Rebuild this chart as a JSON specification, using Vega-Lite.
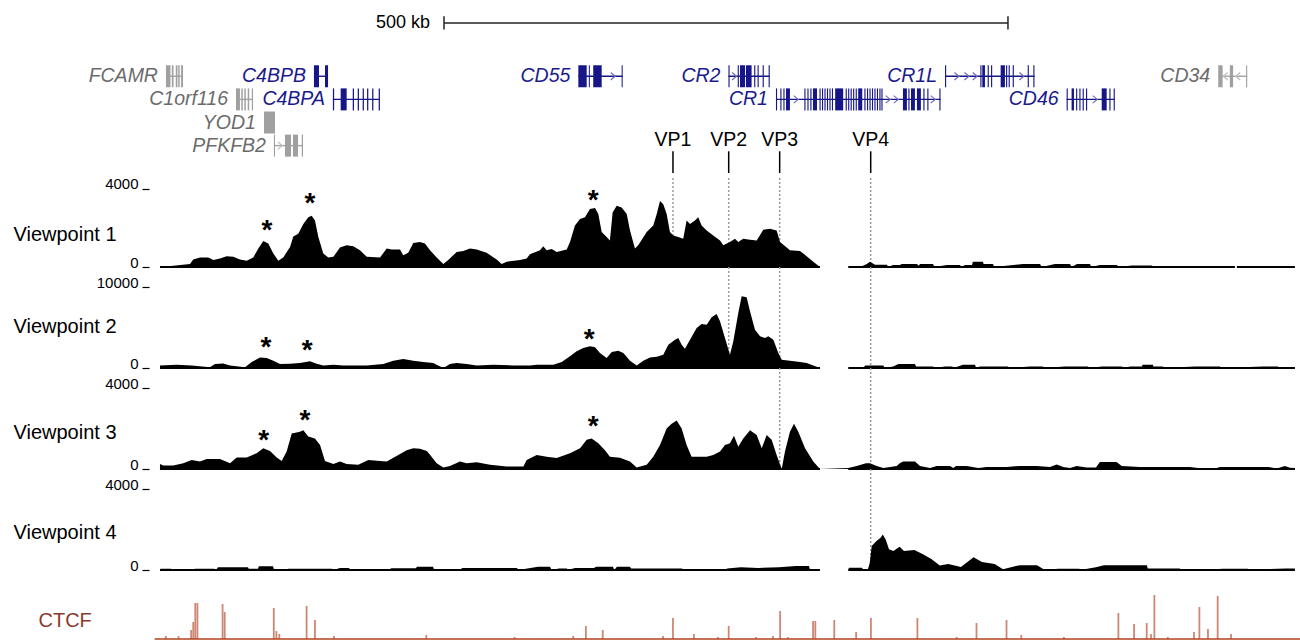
{
"$schema": "https://vega.github.io/schema/vega-lite/v6.json",
"padding": {"left": 13, "top": 0, "right": 0, "bottom": 2},
"spacing": 0,
"bounds": "flush",
"background": "white",
"config": {
  "view": {"stroke": null},
  "font": "Liberation Sans",
  "axisY": {"domain": false, "grid": false, "ticks": true, "tickSize": 7, "tickWidth": 1.2, "tickColor": "#000", "offset": 5,
    "labelFont": "Liberation Sans", "labelFontSize": 15, "labelColor": "#000", "labelBaseline": "alphabetic", "labelAlign": "right",
    "labelPadding": 4, "labelFlush": false, "labelOverlap": false, "format": "d",
    "titleAngle": 0, "titleAlign": "left", "titleBaseline": "middle", "titleX": -136, "titleFont": "Liberation Sans",
    "titleFontSize": 20, "titleFontWeight": "normal", "titleColor": "#000", "titlePadding": 0}
},
"datasets": {
  "scalebar": [{"s": 257.1, "e": 757.1, "label": "500 kb"}],
  "genes": [
    {"gene": "FCAMR", "grp": "gray", "L": 1, "s": 10.6, "e": 25.7},
    {"gene": "C4BPB", "grp": "blue", "L": 1, "s": 141.8, "e": 154.3},
    {"gene": "C1orf116", "grp": "gray", "L": 2, "s": 72.7, "e": 87.8},
    {"gene": "C4BPA", "grp": "blue", "L": 2, "s": 158.6, "e": 200.3},
    {"gene": "YOD1", "grp": "gray", "L": 3, "s": 97.5, "e": 107.3},
    {"gene": "PFKFB2", "grp": "gray", "L": 4, "s": 106.3, "e": 132.1},
    {"gene": "CD55", "grp": "blue", "L": 1, "s": 376.2, "e": 415.5},
    {"gene": "CR2", "grp": "blue", "L": 1, "s": 509.3, "e": 545.9},
    {"gene": "CR1", "grp": "blue", "L": 2, "s": 551.4, "e": 697.3},
    {"gene": "CR1L", "grp": "blue", "L": 1, "s": 701.3, "e": 780.6},
    {"gene": "CD46", "grp": "blue", "L": 2, "s": 809.1, "e": 851.8},
    {"gene": "CD34", "grp": "gray", "L": 1, "s": 943.5, "e": 969.2}
  ],
  "exons": [
    {"grp": "gray", "L": 1, "s": 10.6, "e": 14.6}, {"grp": "gray", "L": 1, "s": 15.8, "e": 17.3}, {"grp": "gray", "L": 1, "s": 19.3, "e": 20.8}, {"grp": "gray", "L": 1, "s": 21.5, "e": 22.8}, {"grp": "gray", "L": 1, "s": 24.0, "e": 25.7},
    {"grp": "blue", "L": 1, "s": 141.8, "e": 146.3}, {"grp": "blue", "L": 1, "s": 151.6, "e": 154.3},
    {"grp": "gray", "L": 2, "s": 72.7, "e": 76.2}, {"grp": "gray", "L": 2, "s": 77.4, "e": 78.7}, {"grp": "gray", "L": 2, "s": 80.1, "e": 81.4}, {"grp": "gray", "L": 2, "s": 83.1, "e": 84.4}, {"grp": "gray", "L": 2, "s": 86.7, "e": 87.8},
    {"grp": "blue", "L": 2, "s": 158.6, "e": 159.7}, {"grp": "blue", "L": 2, "s": 165.5, "e": 170.8}, {"grp": "blue", "L": 2, "s": 176.2, "e": 177.3}, {"grp": "blue", "L": 2, "s": 180.6, "e": 181.7}, {"grp": "blue", "L": 2, "s": 185.0, "e": 186.1}, {"grp": "blue", "L": 2, "s": 188.9, "e": 190.0}, {"grp": "blue", "L": 2, "s": 193.4, "e": 194.5}, {"grp": "blue", "L": 2, "s": 199.2, "e": 200.3},
    {"grp": "gray", "L": 3, "s": 97.5, "e": 107.3},
    {"grp": "gray", "L": 4, "s": 106.3, "e": 107.3}, {"grp": "gray", "L": 4, "s": 116.1, "e": 121.5}, {"grp": "gray", "L": 4, "s": 123.2, "e": 127.7}, {"grp": "gray", "L": 4, "s": 131.0, "e": 132.1},
    {"grp": "blue", "L": 1, "s": 376.2, "e": 383.6}, {"grp": "blue", "L": 1, "s": 385.5, "e": 386.4}, {"grp": "blue", "L": 1, "s": 389.4, "e": 396.9}, {"grp": "blue", "L": 1, "s": 414.6, "e": 415.5},
    {"grp": "blue", "L": 1, "s": 509.3, "e": 510.3}, {"grp": "blue", "L": 1, "s": 517.5, "e": 518.5}, {"grp": "blue", "L": 1, "s": 519.5, "e": 524.0}, {"grp": "blue", "L": 1, "s": 524.8, "e": 529.8}, {"grp": "blue", "L": 1, "s": 532.1, "e": 533.1}, {"grp": "blue", "L": 1, "s": 535.1, "e": 536.1}, {"grp": "blue", "L": 1, "s": 539.6, "e": 540.6}, {"grp": "blue", "L": 1, "s": 544.9, "e": 545.9},
    {"grp": "blue", "L": 2, "s": 551.4, "e": 552.4}, {"grp": "blue", "L": 2, "s": 555.3, "e": 556.3}, {"grp": "blue", "L": 2, "s": 558.0, "e": 559.0}, {"grp": "blue", "L": 2, "s": 560.3, "e": 563.8}, {"grp": "blue", "L": 2, "s": 576.6, "e": 577.6}, {"grp": "blue", "L": 2, "s": 579.3, "e": 580.3}, {"grp": "blue", "L": 2, "s": 581.9, "e": 582.9}, {"grp": "blue", "L": 2, "s": 584.2, "e": 587.8}, {"grp": "blue", "L": 2, "s": 590.0, "e": 591.0}, {"grp": "blue", "L": 2, "s": 592.2, "e": 593.2}, {"grp": "blue", "L": 2, "s": 594.4, "e": 595.4}, {"grp": "blue", "L": 2, "s": 596.6, "e": 597.6}, {"grp": "blue", "L": 2, "s": 598.8, "e": 599.8}, {"grp": "blue", "L": 2, "s": 601.0, "e": 602.0}, {"grp": "blue", "L": 2, "s": 603.9, "e": 611.0}, {"grp": "blue", "L": 2, "s": 613.2, "e": 614.2}, {"grp": "blue", "L": 2, "s": 615.4, "e": 616.4}, {"grp": "blue", "L": 2, "s": 617.6, "e": 618.6}, {"grp": "blue", "L": 2, "s": 619.8, "e": 620.8}, {"grp": "blue", "L": 2, "s": 622.1, "e": 623.1}, {"grp": "blue", "L": 2, "s": 624.3, "e": 627.9}, {"grp": "blue", "L": 2, "s": 629.8, "e": 630.8}, {"grp": "blue", "L": 2, "s": 632.1, "e": 633.1}, {"grp": "blue", "L": 2, "s": 634.3, "e": 635.3}, {"grp": "blue", "L": 2, "s": 636.5, "e": 637.5}, {"grp": "blue", "L": 2, "s": 638.7, "e": 639.7}, {"grp": "blue", "L": 2, "s": 640.9, "e": 641.9}, {"grp": "blue", "L": 2, "s": 643.1, "e": 644.1}, {"grp": "blue", "L": 2, "s": 644.9, "e": 645.9}, {"grp": "blue", "L": 2, "s": 664.0, "e": 667.5}, {"grp": "blue", "L": 2, "s": 668.8, "e": 669.8}, {"grp": "blue", "L": 2, "s": 671.1, "e": 674.6}, {"grp": "blue", "L": 2, "s": 676.4, "e": 679.9}, {"grp": "blue", "L": 2, "s": 682.1, "e": 683.1}, {"grp": "blue", "L": 2, "s": 685.6, "e": 686.6}, {"grp": "blue", "L": 2, "s": 696.3, "e": 697.3},
    {"grp": "blue", "L": 1, "s": 701.3, "e": 702.3}, {"grp": "blue", "L": 1, "s": 732.6, "e": 733.6}, {"grp": "blue", "L": 1, "s": 734.3, "e": 736.7}, {"grp": "blue", "L": 1, "s": 739.1, "e": 740.1}, {"grp": "blue", "L": 1, "s": 742.1, "e": 743.1}, {"grp": "blue", "L": 1, "s": 750.6, "e": 754.4}, {"grp": "blue", "L": 1, "s": 755.4, "e": 756.4}, {"grp": "blue", "L": 1, "s": 757.7, "e": 758.7}, {"grp": "blue", "L": 1, "s": 761.3, "e": 762.3}, {"grp": "blue", "L": 1, "s": 774.6, "e": 775.6}, {"grp": "blue", "L": 1, "s": 779.6, "e": 780.6},
    {"grp": "blue", "L": 2, "s": 809.1, "e": 810.1}, {"grp": "blue", "L": 2, "s": 813.5, "e": 815.6}, {"grp": "blue", "L": 2, "s": 817.5, "e": 818.5}, {"grp": "blue", "L": 2, "s": 820.4, "e": 821.4}, {"grp": "blue", "L": 2, "s": 823.3, "e": 824.3}, {"grp": "blue", "L": 2, "s": 826.3, "e": 827.3}, {"grp": "blue", "L": 2, "s": 840.2, "e": 844.6}, {"grp": "blue", "L": 2, "s": 847.0, "e": 848.0}, {"grp": "blue", "L": 2, "s": 850.8, "e": 851.8},
    {"grp": "gray", "L": 1, "s": 943.5, "e": 947.4}, {"grp": "gray", "L": 1, "s": 953.8, "e": 956.7}, {"grp": "gray", "L": 1, "s": 968.2, "e": 969.2}
  ],
  "arrows": [
    {"grp": "gray", "L": 4, "kb": 111.7, "dir": "r"},
    {"grp": "blue", "L": 1, "kb": 406.9, "dir": "r"},
    {"grp": "blue", "L": 1, "kb": 514.5, "dir": "r"},
    {"grp": "blue", "L": 2, "kb": 569.1, "dir": "r"}, {"grp": "blue", "L": 2, "kb": 650.7, "dir": "r"}, {"grp": "blue", "L": 2, "kb": 657.8, "dir": "r"}, {"grp": "blue", "L": 2, "kb": 690.6, "dir": "r"},
    {"grp": "blue", "L": 1, "kb": 711.6, "dir": "r"}, {"grp": "blue", "L": 1, "kb": 720.5, "dir": "r"}, {"grp": "blue", "L": 1, "kb": 727.8, "dir": "r"}, {"grp": "blue", "L": 1, "kb": 769.2, "dir": "r"},
    {"grp": "blue", "L": 2, "kb": 834.2, "dir": "r"},
    {"grp": "gray", "L": 1, "kb": 950.0, "dir": "l"}, {"grp": "gray", "L": 1, "kb": 961.0, "dir": "l"}
  ],
  "vps": [
    {"vp": "VP1", "kb": 460.1, "last": 1},
    {"vp": "VP2", "kb": 509.5, "last": 2},
    {"vp": "VP3", "kb": 554.7, "last": 3},
    {"vp": "VP4", "kb": 635.4, "last": 4}
  ],
  "base": [
    {"trk": 1, "s": 5.3, "e": 590.4}, {"trk": 1, "s": 615.5, "e": 958.3}, {"trk": 1, "s": 960, "e": 1011.5},
    {"trk": 2, "s": 5.3, "e": 590.4}, {"trk": 2, "s": 615.5, "e": 1011.5},
    {"trk": 3, "s": 5.3, "e": 590.4}, {"trk": 3, "s": 615.5, "e": 1011.5},
    {"trk": 4, "s": 5.3, "e": 590.4}, {"trk": 4, "s": 615.5, "e": 1011.5}
  ],
  "stars": [
    {"trk": 1, "kb": 100.1, "v": 2273}, {"trk": 1, "kb": 138.3, "v": 3642}, {"trk": 1, "kb": 389.4, "v": 3812},
    {"trk": 2, "kb": 99.3, "v": 3458}, {"trk": 2, "kb": 135.9, "v": 3050}, {"trk": 2, "kb": 385.9, "v": 4483},
    {"trk": 3, "kb": 97.3, "v": 1764}, {"trk": 3, "kb": 133.9, "v": 2752}, {"trk": 3, "kb": 389.4, "v": 2470}
  ],
  "vp1": [
    {"seg":"a","kb":5.3,"v":0},{"seg":"a","kb":17.1,"v":66},{"seg":"a","kb":31.9,"v":150},{"seg":"a","kb":34.8,"v":390},{"seg":"a","kb":40.8,"v":490},{"seg":"a","kb":48.1,"v":490},{"seg":"a","kb":52.6,"v":354},{"seg":"a","kb":58.5,"v":440},{"seg":"a","kb":64.4,"v":557},{"seg":"a","kb":70.3,"v":520},{"seg":"a","kb":76.2,"v":390},{"seg":"a","kb":82.2,"v":320},{"seg":"a","kb":88.0,"v":490},{"seg":"a","kb":92.5,"v":946},{"seg":"a","kb":96.9,"v":1330},{"seg":"a","kb":101.3,"v":1200},{"seg":"a","kb":105.8,"v":693},{"seg":"a","kb":110.2,"v":320},{"seg":"a","kb":114.6,"v":490},{"seg":"a","kb":120.6,"v":1030},{"seg":"a","kb":123.5,"v":1570},{"seg":"a","kb":127.9,"v":1700},{"seg":"a","kb":132.4,"v":2210},{"seg":"a","kb":136.8,"v":2545},{"seg":"a","kb":139.8,"v":2630},{"seg":"a","kb":142.7,"v":2380},{"seg":"a","kb":145.7,"v":1535},{"seg":"a","kb":150.1,"v":690},{"seg":"a","kb":154.5,"v":490},{"seg":"a","kb":159.0,"v":520},{"seg":"a","kb":164.9,"v":995},{"seg":"a","kb":170.8,"v":1110},{"seg":"a","kb":176.7,"v":1060},{"seg":"a","kb":182.6,"v":860},{"seg":"a","kb":188.6,"v":520},{"seg":"a","kb":200.4,"v":490},{"seg":"a","kb":206.3,"v":946},{"seg":"a","kb":210.7,"v":895},{"seg":"a","kb":218.1,"v":895},{"seg":"a","kb":221.0,"v":607},{"seg":"a","kb":225.4,"v":725},{"seg":"a","kb":229.9,"v":1230},{"seg":"a","kb":235.8,"v":1280},{"seg":"a","kb":240.2,"v":1200},{"seg":"a","kb":244.7,"v":860},{"seg":"a","kb":250.6,"v":490},{"seg":"a","kb":256.5,"v":150},{"seg":"a","kb":260.9,"v":354},{"seg":"a","kb":268.3,"v":775},{"seg":"a","kb":274.2,"v":826},{"seg":"a","kb":280.1,"v":946},{"seg":"a","kb":286.1,"v":895},{"seg":"a","kb":294.9,"v":725},{"seg":"a","kb":303.8,"v":390},{"seg":"a","kb":308.2,"v":150},{"seg":"a","kb":312.7,"v":270},{"seg":"a","kb":324.5,"v":354},{"seg":"a","kb":330.4,"v":440},{"seg":"a","kb":333.3,"v":658},{"seg":"a","kb":342.2,"v":860},{"seg":"a","kb":345.1,"v":1060},{"seg":"a","kb":348.1,"v":860},{"seg":"a","kb":352.6,"v":928},{"seg":"a","kb":357.0,"v":775},{"seg":"a","kb":365.9,"v":895},{"seg":"a","kb":368.8,"v":1280},{"seg":"a","kb":373.2,"v":2125},{"seg":"a","kb":377.7,"v":2460},{"seg":"a","kb":382.1,"v":2545},{"seg":"a","kb":386.5,"v":2970},{"seg":"a","kb":391.0,"v":3020},{"seg":"a","kb":393.9,"v":2715},{"seg":"a","kb":396.9,"v":1790},{"seg":"a","kb":401.3,"v":1535},{"seg":"a","kb":404.2,"v":1365},{"seg":"a","kb":406.6,"v":2800},{"seg":"a","kb":410.2,"v":3140},{"seg":"a","kb":414.6,"v":3050},{"seg":"a","kb":419.1,"v":2715},{"seg":"a","kb":422.0,"v":1870},{"seg":"a","kb":426.4,"v":946},{"seg":"a","kb":429.3,"v":1110},{"seg":"a","kb":436.8,"v":1790},{"seg":"a","kb":442.6,"v":2125},{"seg":"a","kb":445.7,"v":2715},{"seg":"a","kb":448.6,"v":3390},{"seg":"a","kb":451.5,"v":3220},{"seg":"a","kb":454.5,"v":2715},{"seg":"a","kb":457.4,"v":1790},{"seg":"a","kb":460.4,"v":1620},{"seg":"a","kb":464.8,"v":1535},{"seg":"a","kb":469.2,"v":1450},{"seg":"a","kb":472.2,"v":2380},{"seg":"a","kb":475.2,"v":2210},{"seg":"a","kb":479.6,"v":2380},{"seg":"a","kb":482.5,"v":2545},{"seg":"a","kb":485.5,"v":2125},{"seg":"a","kb":490.0,"v":1870},{"seg":"a","kb":495.8,"v":1620},{"seg":"a","kb":501.8,"v":1365},{"seg":"a","kb":504.7,"v":1110},{"seg":"a","kb":510.6,"v":1280},{"seg":"a","kb":515.1,"v":1450},{"seg":"a","kb":518.0,"v":1280},{"seg":"a","kb":522.4,"v":1450},{"seg":"a","kb":528.4,"v":1400},{"seg":"a","kb":534.3,"v":1365},{"seg":"a","kb":540.2,"v":1910},{"seg":"a","kb":546.1,"v":1960},{"seg":"a","kb":552.0,"v":1870},{"seg":"a","kb":555.0,"v":1280},{"seg":"a","kb":560.9,"v":995},{"seg":"a","kb":563.8,"v":860},{"seg":"a","kb":572.7,"v":826},{"seg":"a","kb":578.6,"v":557},{"seg":"a","kb":584.5,"v":270},{"seg":"a","kb":590.4,"v":0},
    {"seg":"b","kb":615.5,"v":0},{"seg":"b","kb":625.9,"v":0},{"seg":"b","kb":628.5,"v":60},{"seg":"b","kb":631.9,"v":150},{"seg":"b","kb":634.8,"v":270},{"seg":"b","kb":637.0,"v":190},{"seg":"b","kb":639.2,"v":120},{"seg":"b","kb":649.8,"v":120},{"seg":"b","kb":651,"v":0},{"seg":"b","kb":655.1,"v":100},{"seg":"b","kb":661.3,"v":100},{"seg":"b","kb":663,"v":150},{"seg":"b","kb":676.4,"v":150},{"seg":"b","kb":678,"v":60},{"seg":"b","kb":679.1,"v":150},{"seg":"b","kb":690.6,"v":150},{"seg":"b","kb":692,"v":0},{"seg":"b","kb":703,"v":100},{"seg":"b","kb":714.5,"v":100},{"seg":"b","kb":716,"v":0},{"seg":"b","kb":719,"v":100},{"seg":"b","kb":725.2,"v":100},{"seg":"b","kb":726,"v":270},{"seg":"b","kb":734.9,"v":270},{"seg":"b","kb":735.5,"v":150},{"seg":"b","kb":743.8,"v":150},{"seg":"b","kb":745,"v":0},{"seg":"b","kb":770.4,"v":150},{"seg":"b","kb":785.5,"v":150},{"seg":"b","kb":787,"v":0},{"seg":"b","kb":798.8,"v":150},{"seg":"b","kb":812.1,"v":150},{"seg":"b","kb":813.5,"v":0},{"seg":"b","kb":818.3,"v":150},{"seg":"b","kb":829.8,"v":150},{"seg":"b","kb":831,"v":0},{"seg":"b","kb":838.6,"v":100},{"seg":"b","kb":853.7,"v":100},{"seg":"b","kb":855,"v":0},{"seg":"b","kb":867,"v":80},{"seg":"b","kb":884.7,"v":80},{"seg":"b","kb":886,"v":0},{"seg":"b","kb":958.3,"v":0}
  ],
  "vp2": [
    {"seg":"a","kb":5.3,"v":320},{"seg":"a","kb":20.1,"v":400},{"seg":"a","kb":33.4,"v":320},{"seg":"a","kb":49.6,"v":80},{"seg":"a","kb":54.1,"v":490},{"seg":"a","kb":61.4,"v":570},{"seg":"a","kb":67.4,"v":320},{"seg":"a","kb":80.7,"v":80},{"seg":"a","kb":86.6,"v":740},{"seg":"a","kb":94.0,"v":1300},{"seg":"a","kb":99.9,"v":1230},{"seg":"a","kb":105.8,"v":900},{"seg":"a","kb":111.7,"v":490},{"seg":"a","kb":120.6,"v":530},{"seg":"a","kb":129.4,"v":620},{"seg":"a","kb":138.3,"v":820},{"seg":"a","kb":144.2,"v":530},{"seg":"a","kb":150.1,"v":320},{"seg":"a","kb":159.0,"v":400},{"seg":"a","kb":167.8,"v":320},{"seg":"a","kb":188.6,"v":320},{"seg":"a","kb":203.3,"v":490},{"seg":"a","kb":212.1,"v":900},{"seg":"a","kb":221.0,"v":1100},{"seg":"a","kb":229.9,"v":900},{"seg":"a","kb":238.7,"v":740},{"seg":"a","kb":247.6,"v":620},{"seg":"a","kb":250.6,"v":400},{"seg":"a","kb":256.5,"v":0},{"seg":"a","kb":262.4,"v":490},{"seg":"a","kb":268.3,"v":620},{"seg":"a","kb":277.2,"v":490},{"seg":"a","kb":286.1,"v":320},{"seg":"a","kb":300.8,"v":400},{"seg":"a","kb":318.5,"v":320},{"seg":"a","kb":333.3,"v":320},{"seg":"a","kb":339.3,"v":400},{"seg":"a","kb":354.0,"v":400},{"seg":"a","kb":361.5,"v":740},{"seg":"a","kb":368.8,"v":1440},{"seg":"a","kb":374.7,"v":2060},{"seg":"a","kb":380.6,"v":2470},{"seg":"a","kb":386.5,"v":2680},{"seg":"a","kb":391.0,"v":2550},{"seg":"a","kb":395.4,"v":1850},{"seg":"a","kb":401.3,"v":1230},{"seg":"a","kb":405.8,"v":1970},{"seg":"a","kb":411.6,"v":2140},{"seg":"a","kb":416.1,"v":1850},{"seg":"a","kb":422.0,"v":900},{"seg":"a","kb":427.9,"v":320},{"seg":"a","kb":433.8,"v":900},{"seg":"a","kb":439.7,"v":1300},{"seg":"a","kb":445.7,"v":1400},{"seg":"a","kb":451.5,"v":1640},{"seg":"a","kb":456.0,"v":2880},{"seg":"a","kb":461.9,"v":3500},{"seg":"a","kb":464.8,"v":3700},{"seg":"a","kb":467.8,"v":2880},{"seg":"a","kb":470.7,"v":2390},{"seg":"a","kb":475.2,"v":3500},{"seg":"a","kb":481.1,"v":4940},{"seg":"a","kb":485.5,"v":5430},{"seg":"a","kb":490.0,"v":5350},{"seg":"a","kb":494.4,"v":6260},{"seg":"a","kb":498.8,"v":6670},{"seg":"a","kb":501.8,"v":5760},{"seg":"a","kb":506.2,"v":3700},{"seg":"a","kb":510.6,"v":1640},{"seg":"a","kb":513.6,"v":3290},{"seg":"a","kb":518.0,"v":6790},{"seg":"a","kb":521.0,"v":8850},{"seg":"a","kb":525.4,"v":8730},{"seg":"a","kb":528.4,"v":7000},{"seg":"a","kb":532.8,"v":4730},{"seg":"a","kb":537.3,"v":3910},{"seg":"a","kb":541.7,"v":3700},{"seg":"a","kb":544.6,"v":3910},{"seg":"a","kb":549.1,"v":3500},{"seg":"a","kb":553.5,"v":1850},{"seg":"a","kb":556.5,"v":1030},{"seg":"a","kb":563.8,"v":900},{"seg":"a","kb":572.7,"v":740},{"seg":"a","kb":578.6,"v":620},{"seg":"a","kb":584.5,"v":320},{"seg":"a","kb":590.4,"v":0},
    {"seg":"b","kb":615.5,"v":0},{"seg":"b","kb":628.8,"v":0},{"seg":"b","kb":630.5,"v":320},{"seg":"b","kb":646.6,"v":320},{"seg":"b","kb":648,"v":0},{"seg":"b","kb":655.2,"v":200},{"seg":"b","kb":660,"v":490},{"seg":"b","kb":674.7,"v":490},{"seg":"b","kb":675.6,"v":200},{"seg":"b","kb":690.6,"v":200},{"seg":"b","kb":692,"v":0},{"seg":"b","kb":701.4,"v":180},{"seg":"b","kb":707.6,"v":180},{"seg":"b","kb":709,"v":0},{"seg":"b","kb":717.2,"v":400},{"seg":"b","kb":727.8,"v":400},{"seg":"b","kb":729,"v":0},{"seg":"b","kb":732.2,"v":200},{"seg":"b","kb":757.1,"v":200},{"seg":"b","kb":758.5,"v":0},{"seg":"b","kb":776.6,"v":200},{"seg":"b","kb":788.1,"v":200},{"seg":"b","kb":789.5,"v":0},{"seg":"b","kb":807.6,"v":200},{"seg":"b","kb":828.0,"v":200},{"seg":"b","kb":829.5,"v":0},{"seg":"b","kb":840.4,"v":200},{"seg":"b","kb":858.2,"v":200},{"seg":"b","kb":859.5,"v":0},{"seg":"b","kb":865.3,"v":200},{"seg":"b","kb":875.9,"v":200},{"seg":"b","kb":876.5,"v":400},{"seg":"b","kb":885.6,"v":400},{"seg":"b","kb":886,"v":200},{"seg":"b","kb":894.5,"v":200},{"seg":"b","kb":896,"v":0},{"seg":"b","kb":922.9,"v":200},{"seg":"b","kb":945.0,"v":200},{"seg":"b","kb":946.5,"v":0},{"seg":"b","kb":983.2,"v":200},{"seg":"b","kb":996.4,"v":200},{"seg":"b","kb":998,"v":0},{"seg":"b","kb":1011.5,"v":0}
  ],
  "vp3": [
    {"seg":"a","kb":5.3,"v":245},{"seg":"a","kb":8.2,"v":175},{"seg":"a","kb":17.1,"v":175},{"seg":"a","kb":26.0,"v":290},{"seg":"a","kb":33.4,"v":450},{"seg":"a","kb":40.8,"v":370},{"seg":"a","kb":46.7,"v":500},{"seg":"a","kb":52.6,"v":500},{"seg":"a","kb":58.5,"v":500},{"seg":"a","kb":67.4,"v":290},{"seg":"a","kb":73.3,"v":565},{"seg":"a","kb":82.2,"v":565},{"seg":"a","kb":91.0,"v":780},{"seg":"a","kb":96.9,"v":1030},{"seg":"a","kb":102.8,"v":890},{"seg":"a","kb":108.8,"v":565},{"seg":"a","kb":113.2,"v":390},{"seg":"a","kb":117.6,"v":860},{"seg":"a","kb":122.1,"v":1760},{"seg":"a","kb":129.4,"v":1840},{"seg":"a","kb":132.4,"v":1920},{"seg":"a","kb":136.8,"v":1600},{"seg":"a","kb":142.7,"v":1510},{"seg":"a","kb":147.2,"v":1190},{"seg":"a","kb":151.6,"v":390},{"seg":"a","kb":159.0,"v":245},{"seg":"a","kb":164.9,"v":370},{"seg":"a","kb":170.8,"v":245},{"seg":"a","kb":181.1,"v":210},{"seg":"a","kb":190.0,"v":450},{"seg":"a","kb":200.4,"v":400},{"seg":"a","kb":206.3,"v":370},{"seg":"a","kb":216.6,"v":690},{"seg":"a","kb":224.0,"v":930},{"seg":"a","kb":229.9,"v":1030},{"seg":"a","kb":235.8,"v":1000},{"seg":"a","kb":241.8,"v":890},{"seg":"a","kb":244.7,"v":700},{"seg":"a","kb":250.6,"v":290},{"seg":"a","kb":256.5,"v":80},{"seg":"a","kb":262.4,"v":150},{"seg":"a","kb":271.3,"v":370},{"seg":"a","kb":277.2,"v":290},{"seg":"a","kb":286.1,"v":330},{"seg":"a","kb":297.9,"v":210},{"seg":"a","kb":312.7,"v":120},{"seg":"a","kb":327.5,"v":120},{"seg":"a","kb":330.4,"v":450},{"seg":"a","kb":339.3,"v":690},{"seg":"a","kb":348.1,"v":610},{"seg":"a","kb":357.0,"v":540},{"seg":"a","kb":368.8,"v":780},{"seg":"a","kb":377.7,"v":1030},{"seg":"a","kb":383.6,"v":1440},{"seg":"a","kb":388.0,"v":1510},{"seg":"a","kb":393.9,"v":1270},{"seg":"a","kb":399.8,"v":930},{"seg":"a","kb":404.2,"v":610},{"seg":"a","kb":413.1,"v":560},{"seg":"a","kb":422.0,"v":370},{"seg":"a","kb":427.9,"v":80},{"seg":"a","kb":436.8,"v":210},{"seg":"a","kb":442.6,"v":610},{"seg":"a","kb":448.6,"v":1190},{"seg":"a","kb":454.5,"v":2000},{"seg":"a","kb":458.9,"v":2240},{"seg":"a","kb":463.4,"v":2400},{"seg":"a","kb":467.8,"v":2000},{"seg":"a","kb":472.2,"v":1190},{"seg":"a","kb":476.6,"v":610},{"seg":"a","kb":490.0,"v":610},{"seg":"a","kb":495.8,"v":690},{"seg":"a","kb":501.8,"v":860},{"seg":"a","kb":506.2,"v":1190},{"seg":"a","kb":510.6,"v":1270},{"seg":"a","kb":514.2,"v":1640},{"seg":"a","kb":518.0,"v":1100},{"seg":"a","kb":522.4,"v":1510},{"seg":"a","kb":528.4,"v":1920},{"seg":"a","kb":534.3,"v":1680},{"seg":"a","kb":538.8,"v":1030},{"seg":"a","kb":543.2,"v":1680},{"seg":"a","kb":547.6,"v":1440},{"seg":"a","kb":552.0,"v":690},{"seg":"a","kb":556.5,"v":0},{"seg":"a","kb":559.4,"v":860},{"seg":"a","kb":563.8,"v":1840},{"seg":"a","kb":567.4,"v":2240},{"seg":"a","kb":571.2,"v":1840},{"seg":"a","kb":577.2,"v":1030},{"seg":"a","kb":584.5,"v":370},{"seg":"a","kb":590.4,"v":0},
    {"seg":"b","kb":615.5,"v":50},{"seg":"b","kb":622.9,"v":150},{"seg":"b","kb":631.2,"v":290},{"seg":"b","kb":634.8,"v":290},{"seg":"b","kb":640.7,"v":150},{"seg":"b","kb":646.6,"v":50},{"seg":"b","kb":658.5,"v":150},{"seg":"b","kb":661.4,"v":300},{"seg":"b","kb":664.3,"v":370},{"seg":"b","kb":674.7,"v":370},{"seg":"b","kb":679.1,"v":150},{"seg":"b","kb":688.0,"v":50},{"seg":"b","kb":693.9,"v":150},{"seg":"b","kb":705.7,"v":150},{"seg":"b","kb":708.6,"v":50},{"seg":"b","kb":711,"v":150},{"seg":"b","kb":720.5,"v":150},{"seg":"b","kb":730.8,"v":50},{"seg":"b","kb":738.2,"v":100},{"seg":"b","kb":755.9,"v":100},{"seg":"b","kb":767.7,"v":150},{"seg":"b","kb":782.5,"v":150},{"seg":"b","kb":794.3,"v":100},{"seg":"b","kb":800.3,"v":220},{"seg":"b","kb":806.1,"v":100},{"seg":"b","kb":812.1,"v":50},{"seg":"b","kb":818.0,"v":150},{"seg":"b","kb":826.8,"v":80},{"seg":"b","kb":835.1,"v":80},{"seg":"b","kb":838.6,"v":340},{"seg":"b","kb":853.4,"v":340},{"seg":"b","kb":857.9,"v":150},{"seg":"b","kb":874.1,"v":100},{"seg":"b","kb":918.4,"v":100},{"seg":"b","kb":925.5,"v":50},{"seg":"b","kb":942.1,"v":50},{"seg":"b","kb":945.0,"v":100},{"seg":"b","kb":970.1,"v":100},{"seg":"b","kb":987.8,"v":100},{"seg":"b","kb":995.3,"v":30},{"seg":"b","kb":1002.6,"v":150},{"seg":"b","kb":1007.1,"v":60},{"seg":"b","kb":1011.5,"v":50}
  ],
  "vp4": [
    {"seg":"a","kb":5.3,"v":0},{"seg":"a","kb":6,"v":65},{"seg":"a","kb":15.1,"v":65},{"seg":"a","kb":16,"v":0},{"seg":"a","kb":35.5,"v":0},{"seg":"a","kb":36.3,"v":65},{"seg":"a","kb":53.2,"v":65},{"seg":"a","kb":55,"v":0},{"seg":"a","kb":56.7,"v":130},{"seg":"a","kb":83.3,"v":130},{"seg":"a","kb":84,"v":65},{"seg":"a","kb":92.2,"v":65},{"seg":"a","kb":93,"v":180},{"seg":"a","kb":105.5,"v":180},{"seg":"a","kb":106.5,"v":0},{"seg":"a","kb":118,"v":0},{"seg":"a","kb":118.8,"v":65},{"seg":"a","kb":157.8,"v":65},{"seg":"a","kb":159,"v":0},{"seg":"a","kb":164.9,"v":100},{"seg":"a","kb":172.9,"v":100},{"seg":"a","kb":174,"v":0},{"seg":"a","kb":209,"v":0},{"seg":"a","kb":210.1,"v":90},{"seg":"a","kb":232.3,"v":90},{"seg":"a","kb":233,"v":160},{"seg":"a","kb":247.3,"v":160},{"seg":"a","kb":248.5,"v":0},{"seg":"a","kb":272,"v":0},{"seg":"a","kb":273.0,"v":100},{"seg":"a","kb":321.8,"v":100},{"seg":"a","kb":323,"v":0},{"seg":"a","kb":340.4,"v":160},{"seg":"a","kb":351.1,"v":160},{"seg":"a","kb":352.5,"v":0},{"seg":"a","kb":359.0,"v":80},{"seg":"a","kb":366.1,"v":80},{"seg":"a","kb":367,"v":0},{"seg":"a","kb":373.2,"v":100},{"seg":"a","kb":390.1,"v":100},{"seg":"a","kb":391.8,"v":160},{"seg":"a","kb":406.9,"v":160},{"seg":"a","kb":408,"v":0},{"seg":"a","kb":410.4,"v":160},{"seg":"a","kb":421.9,"v":160},{"seg":"a","kb":423,"v":80},{"seg":"a","kb":430.8,"v":80},{"seg":"a","kb":468.1,"v":80},{"seg":"a","kb":469.5,"v":0},{"seg":"a","kb":507,"v":0},{"seg":"a","kb":508.0,"v":80},{"seg":"a","kb":520.4,"v":130},{"seg":"a","kb":535.5,"v":100},{"seg":"a","kb":554.1,"v":130},{"seg":"a","kb":569.1,"v":200},{"seg":"a","kb":580.7,"v":200},{"seg":"a","kb":581.5,"v":30},{"seg":"a","kb":590.4,"v":0},
    {"seg":"b","kb":615.5,"v":0},{"seg":"b","kb":616.1,"v":110},{"seg":"b","kb":627.7,"v":110},{"seg":"b","kb":629,"v":0},{"seg":"b","kb":632.7,"v":0},{"seg":"b","kb":634.5,"v":330},{"seg":"b","kb":636.3,"v":1190},{"seg":"b","kb":640.5,"v":1430},{"seg":"b","kb":644.2,"v":1590},{"seg":"b","kb":646.1,"v":1750},{"seg":"b","kb":648.7,"v":1510},{"seg":"b","kb":651.6,"v":1020},{"seg":"b","kb":655.5,"v":940},{"seg":"b","kb":661.1,"v":1150},{"seg":"b","kb":664.9,"v":940},{"seg":"b","kb":674.2,"v":990},{"seg":"b","kb":681.7,"v":780},{"seg":"b","kb":689.2,"v":540},{"seg":"b","kb":696.6,"v":220},{"seg":"b","kb":704.1,"v":300},{"seg":"b","kb":715.4,"v":150},{"seg":"b","kb":726.6,"v":630},{"seg":"b","kb":734.0,"v":400},{"seg":"b","kb":745.3,"v":300},{"seg":"b","kb":752.7,"v":40},{"seg":"b","kb":767.7,"v":240},{"seg":"b","kb":782.8,"v":240},{"seg":"b","kb":789.9,"v":0},{"seg":"b","kb":801.7,"v":60},{"seg":"b","kb":820.3,"v":60},{"seg":"b","kb":821,"v":0},{"seg":"b","kb":835.1,"v":140},{"seg":"b","kb":842.2,"v":240},{"seg":"b","kb":880.3,"v":240},{"seg":"b","kb":881,"v":80},{"seg":"b","kb":909.6,"v":80},{"seg":"b","kb":910.5,"v":0},{"seg":"b","kb":917.5,"v":40},{"seg":"b","kb":929.0,"v":40},{"seg":"b","kb":930,"v":0},{"seg":"b","kb":947.7,"v":60},{"seg":"b","kb":969.9,"v":60},{"seg":"b","kb":971,"v":0},{"seg":"b","kb":1003.5,"v":80},{"seg":"b","kb":1011.5,"v":80}
  ],
  "ctcf": [
    {"kb":10.5,"v":3},{"kb":21.7,"v":3},{"kb":32.9,"v":9},{"kb":34.8,"v":17},{"kb":36.6,"v":36},{"kb":38.5,"v":36},{"kb":60.8,"v":35},{"kb":62.7,"v":27},{"kb":106.2,"v":31},{"kb":108.5,"v":8},{"kb":111.1,"v":5},{"kb":135.3,"v":33},{"kb":142.7,"v":19},{"kb":159.5,"v":3},{"kb":241.4,"v":4},{"kb":319.6,"v":2},{"kb":371.7,"v":3},{"kb":382.9,"v":13},{"kb":397.8,"v":9},{"kb":451.2,"v":3},{"kb":460.1,"v":21},{"kb":478.7,"v":5},{"kb":500.0,"v":2},{"kb":509.5,"v":13},{"kb":533.7,"v":2},{"kb":548.8,"v":3},{"kb":555.1,"v":28},{"kb":561.9,"v":2},{"kb":584.3,"v":18},{"kb":586.3,"v":18},{"kb":603.1,"v":19},{"kb":622.5,"v":7},{"kb":635.6,"v":21},{"kb":676.8,"v":21},{"kb":711.6,"v":2},{"kb":729.2,"v":16},{"kb":755.8,"v":19},{"kb":768.9,"v":4},{"kb":806.7,"v":2},{"kb":855.0,"v":26},{"kb":868.9,"v":15},{"kb":880.1,"v":16},{"kb":883.9,"v":5},{"kb":886.9,"v":44},{"kb":898.8,"v":2},{"kb":922.0,"v":7},{"kb":926.8,"v":32},{"kb":934.4,"v":10},{"kb":943.0,"v":43},{"kb":954.9,"v":5}
  ],
  "ctcfbase": [{"s": 0.5, "e": 1016}]
},
"vconcat": [
  {
    "width": 1146, "height": 178,
    "layer": [
      {"data": {"name": "scalebar"}, "mark": {"type": "rule", "strokeWidth": 1.5, "color": "#222"},
       "encoding": {"x": {"field": "s", "type": "quantitative", "scale": {"domain": [0, 1016], "nice": false, "zero": false}, "axis": null}, "x2": {"field": "e"},
         "y": {"datum": -1.306, "type": "quantitative", "scale": {"domain": [-2.082, 5.184], "reverse": true, "nice": false, "zero": false}, "axis": null}}},
      {"data": {"name": "scalebar"}, "mark": {"type": "rule", "strokeWidth": 1.5, "color": "#222"},
       "encoding": {"x": {"field": "s", "type": "quantitative", "axis": null}, "y": {"datum": -1.592, "type": "quantitative", "axis": null}, "y2": {"datum": -1.02}}},
      {"data": {"name": "scalebar"}, "mark": {"type": "rule", "strokeWidth": 1.5, "color": "#222"},
       "encoding": {"x": {"field": "e", "type": "quantitative", "axis": null}, "y": {"datum": -1.592, "type": "quantitative", "axis": null}, "y2": {"datum": -1.02}}},
      {"data": {"name": "scalebar"}, "mark": {"type": "text", "align": "right", "baseline": "middle", "dx": -14, "fontSize": 18, "font": "Liberation Sans", "color": "#000"},
       "encoding": {"x": {"field": "s", "type": "quantitative", "axis": null}, "y": {"datum": -1.306, "type": "quantitative", "axis": null}, "text": {"field": "label"}}},
      {"data": {"name": "genes"}, "mark": {"type": "rule", "strokeWidth": 1.4},
       "encoding": {"x": {"field": "s", "type": "quantitative", "axis": null}, "x2": {"field": "e"}, "y": {"field": "L", "type": "quantitative", "axis": null},
         "color": {"condition": {"test": "datum.grp === 'blue'", "value": "#161688"}, "value": "#a3a3a3"}}},
      {"data": {"name": "exons"}, "mark": {"type": "bar", "orient": "horizontal", "size": 22},
       "encoding": {"x": {"field": "s", "type": "quantitative", "axis": null}, "x2": {"field": "e"}, "y": {"field": "L", "type": "quantitative", "axis": null},
         "color": {"condition": {"test": "datum.grp === 'blue'", "value": "#161688"}, "value": "#a0a0a0"}}},
      {"data": {"name": "arrows"}, "mark": {"type": "point", "filled": false, "size": 56, "strokeWidth": 1.2, "opacity": 1},
       "encoding": {"x": {"field": "kb", "type": "quantitative", "axis": null}, "y": {"field": "L", "type": "quantitative", "axis": null},
         "shape": {"field": "dir", "type": "nominal", "scale": {"domain": ["r", "l"], "range": ["M-0.6,-1L0.6,0L-0.6,1", "M0.6,-1L-0.6,0L0.6,1"]}, "legend": null},
         "color": {"condition": {"test": "datum.grp === 'blue'", "value": "#6f6fb8"}, "value": "#bdbdbd"}}},
      {"data": {"name": "genes"}, "mark": {"type": "text", "align": "right", "baseline": "middle", "dx": -8, "fontSize": 19.5, "fontStyle": "italic", "font": "Liberation Sans"},
       "encoding": {"x": {"field": "s", "type": "quantitative", "axis": null}, "y": {"field": "L", "type": "quantitative", "axis": null}, "text": {"field": "gene"},
         "color": {"condition": {"test": "datum.grp === 'blue'", "value": "#1a1a8c"}, "value": "#6b6b6b"}}},
      {"data": {"name": "vps"}, "mark": {"type": "text", "align": "center", "baseline": "middle", "fontSize": 19.5, "font": "Liberation Sans", "color": "#000"},
       "encoding": {"x": {"field": "kb", "type": "quantitative", "axis": null}, "y": {"datum": 3.755, "type": "quantitative", "axis": null}, "text": {"field": "vp"}}},
      {"data": {"name": "vps"}, "mark": {"type": "rule", "strokeWidth": 1.5, "color": "#000"},
       "encoding": {"x": {"field": "kb", "type": "quantitative", "axis": null}, "y": {"datum": 4.245, "type": "quantitative", "axis": null}, "y2": {"datum": 5.184}}}
    ]
  },
  {
    "width": 1146, "height": 89,
    "layer": [
      {"data": {"name": "vps"}, "transform": [{"filter": "datum.last >= 1"}], "mark": {"type": "rule", "color": "#9a9a9a", "strokeDash": [2, 2], "strokeWidth": 1.5},
       "encoding": {"x": {"field": "kb", "type": "quantitative", "scale": {"domain": [0, 1016], "nice": false, "zero": false}, "axis": null},
         "y": {"datum": 4564, "type": "quantitative", "scale": {"domain": [0, 4564], "nice": false, "zero": false}, "axis": {"values": [0, 4000], "title": "Viewpoint 1", "titleY": 56}}, "y2": {"datum": 0}}},
      {"data": {"name": "vp1"}, "mark": {"type": "area", "color": "#000", "interpolate": "linear"},
       "encoding": {"x": {"field": "kb", "type": "quantitative", "axis": null}, "y": {"field": "v", "type": "quantitative", "axis": {"values": [0, 4000], "title": "Viewpoint 1", "titleY": 56}}, "detail": {"field": "seg"}}},
      {"data": {"name": "base"}, "transform": [{"filter": "datum.trk === 1"}], "mark": {"type": "rule", "color": "#000", "strokeWidth": 2},
       "encoding": {"x": {"field": "s", "type": "quantitative", "axis": null}, "x2": {"field": "e"}, "y": {"datum": 0, "type": "quantitative", "axis": {"values": [0, 4000], "title": "Viewpoint 1", "titleY": 56}}}},
      {"data": {"name": "stars"}, "transform": [{"filter": "datum.trk === 1"}], "mark": {"type": "text", "fontSize": 28, "fontWeight": "bold", "dy": 16, "baseline": "alphabetic", "align": "center", "color": "#000", "font": "Liberation Sans"},
       "encoding": {"x": {"field": "kb", "type": "quantitative", "axis": null}, "y": {"field": "v", "type": "quantitative", "axis": {"values": [0, 4000], "title": "Viewpoint 1", "titleY": 56}}, "text": {"value": "*"}}}
    ]
  },
  {
    "width": 1146, "height": 101,
    "layer": [
      {"data": {"name": "vps"}, "transform": [{"filter": "datum.last >= 2"}], "mark": {"type": "rule", "color": "#9a9a9a", "strokeDash": [2, 2], "strokeWidth": 1.5},
       "encoding": {"x": {"field": "kb", "type": "quantitative", "scale": {"domain": [0, 1016], "nice": false, "zero": false}, "axis": null},
         "y": {"datum": 12474, "type": "quantitative", "scale": {"domain": [0, 12474], "nice": false, "zero": false}, "axis": {"values": [0, 10000], "title": "Viewpoint 2", "titleY": 59}}, "y2": {"datum": 0}}},
      {"data": {"name": "vp2"}, "mark": {"type": "area", "color": "#000", "interpolate": "linear"},
       "encoding": {"x": {"field": "kb", "type": "quantitative", "axis": null}, "y": {"field": "v", "type": "quantitative", "axis": {"values": [0, 10000], "title": "Viewpoint 2", "titleY": 59}}, "detail": {"field": "seg"}}},
      {"data": {"name": "base"}, "transform": [{"filter": "datum.trk === 2"}], "mark": {"type": "rule", "color": "#000", "strokeWidth": 2},
       "encoding": {"x": {"field": "s", "type": "quantitative", "axis": null}, "x2": {"field": "e"}, "y": {"datum": 0, "type": "quantitative", "axis": {"values": [0, 10000], "title": "Viewpoint 2", "titleY": 59}}}},
      {"data": {"name": "stars"}, "transform": [{"filter": "datum.trk === 2"}], "mark": {"type": "text", "fontSize": 28, "fontWeight": "bold", "dy": 16, "baseline": "alphabetic", "align": "center", "color": "#000", "font": "Liberation Sans"},
       "encoding": {"x": {"field": "kb", "type": "quantitative", "axis": null}, "y": {"field": "v", "type": "quantitative", "axis": {"values": [0, 10000], "title": "Viewpoint 2", "titleY": 59}}, "text": {"value": "*"}}}
    ]
  },
  {
    "width": 1146, "height": 101,
    "layer": [
      {"data": {"name": "vps"}, "transform": [{"filter": "datum.last >= 3"}], "mark": {"type": "rule", "color": "#9a9a9a", "strokeDash": [2, 2], "strokeWidth": 1.5},
       "encoding": {"x": {"field": "kb", "type": "quantitative", "scale": {"domain": [0, 1016], "nice": false, "zero": false}, "axis": null},
         "y": {"datum": 4990, "type": "quantitative", "scale": {"domain": [0, 4990], "nice": false, "zero": false}, "axis": {"values": [0, 4000], "title": "Viewpoint 3", "titleY": 64}}, "y2": {"datum": 0}}},
      {"data": {"name": "vp3"}, "mark": {"type": "area", "color": "#000", "interpolate": "linear"},
       "encoding": {"x": {"field": "kb", "type": "quantitative", "axis": null}, "y": {"field": "v", "type": "quantitative", "axis": {"values": [0, 4000], "title": "Viewpoint 3", "titleY": 64}}, "detail": {"field": "seg"}}},
      {"data": {"name": "base"}, "transform": [{"filter": "datum.trk === 3"}], "mark": {"type": "rule", "color": "#000", "strokeWidth": 2},
       "encoding": {"x": {"field": "s", "type": "quantitative", "axis": null}, "x2": {"field": "e"}, "y": {"datum": 0, "type": "quantitative", "axis": {"values": [0, 4000], "title": "Viewpoint 3", "titleY": 64}}}},
      {"data": {"name": "stars"}, "transform": [{"filter": "datum.trk === 3"}], "mark": {"type": "text", "fontSize": 28, "fontWeight": "bold", "dy": 16, "baseline": "alphabetic", "align": "center", "color": "#000", "font": "Liberation Sans"},
       "encoding": {"x": {"field": "kb", "type": "quantitative", "axis": null}, "y": {"field": "v", "type": "quantitative", "axis": {"values": [0, 4000], "title": "Viewpoint 3", "titleY": 64}}, "text": {"value": "*"}}}
    ]
  },
  {
    "width": 1146, "height": 101,
    "layer": [
      {"data": {"name": "vps"}, "transform": [{"filter": "datum.last >= 4"}], "mark": {"type": "rule", "color": "#9a9a9a", "strokeDash": [2, 2], "strokeWidth": 1.5},
       "encoding": {"x": {"field": "kb", "type": "quantitative", "scale": {"domain": [0, 1016], "nice": false, "zero": false}, "axis": null},
         "y": {"datum": 4990, "type": "quantitative", "scale": {"domain": [0, 4990], "nice": false, "zero": false}, "axis": {"values": [0, 4000], "title": "Viewpoint 4", "titleY": 63}}, "y2": {"datum": 0}}},
      {"data": {"name": "vp4"}, "mark": {"type": "area", "color": "#000", "interpolate": "linear"},
       "encoding": {"x": {"field": "kb", "type": "quantitative", "axis": null}, "y": {"field": "v", "type": "quantitative", "axis": {"values": [0, 4000], "title": "Viewpoint 4", "titleY": 63}}, "detail": {"field": "seg"}}},
      {"data": {"name": "base"}, "transform": [{"filter": "datum.trk === 4"}], "mark": {"type": "rule", "color": "#000", "strokeWidth": 2},
       "encoding": {"x": {"field": "s", "type": "quantitative", "axis": null}, "x2": {"field": "e"}, "y": {"datum": 0, "type": "quantitative", "axis": {"values": [0, 4000], "title": "Viewpoint 4", "titleY": 63}}}}
    ]
  },
  {
    "width": 1146, "height": 69,
    "layer": [
      {"data": {"name": "ctcf"}, "mark": {"type": "rule", "color": "#b4472b", "strokeWidth": 1.8, "opacity": 0.65},
       "encoding": {"x": {"field": "kb", "type": "quantitative", "scale": {"domain": [0, 1016], "nice": false, "zero": false}, "axis": null},
         "y": {"field": "v", "type": "quantitative", "scale": {"domain": [0, 69], "nice": false, "zero": false}, "axis": {"title": "CTCF", "labels": false, "ticks": false, "titleX": -111, "titleY": 50, "titleColor": "#8b3a2e"}}, "y2": {"datum": 0}}},
      {"data": {"name": "ctcfbase"}, "mark": {"type": "rule", "color": "#b3401e", "strokeWidth": 1.5},
       "encoding": {"x": {"field": "s", "type": "quantitative", "axis": null}, "x2": {"field": "e"}, "y": {"datum": 0, "type": "quantitative", "axis": {"title": "CTCF", "labels": false, "ticks": false, "titleX": -111, "titleY": 50, "titleColor": "#8b3a2e"}}}}
    ]
  }
]
}
